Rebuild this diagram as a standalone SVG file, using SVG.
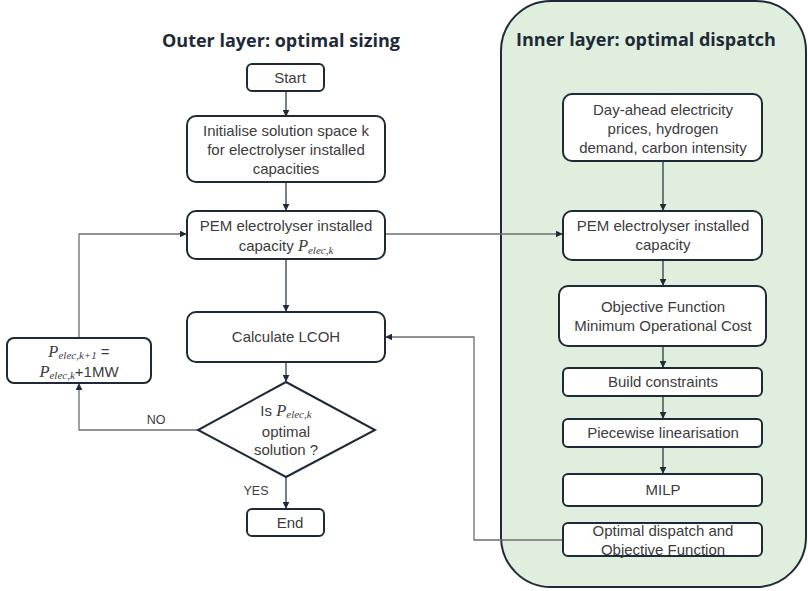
<svg xmlns="http://www.w3.org/2000/svg" width="808" height="591" viewBox="0 0 808 591">
<defs>
<marker id="ah" viewBox="0 0 10 10" refX="9" refY="5" markerWidth="7" markerHeight="7" markerUnits="userSpaceOnUse" orient="auto"><path d="M0,0 L10,5 L0,10 z" fill="#1f2a38"/></marker>
</defs>
<style>
.box{fill:#fff;stroke:#1f2a38;stroke-width:2}
.t{font-family:"Liberation Sans","Open Sans",sans-serif;font-size:15px;fill:#3c3c3c;text-anchor:middle}
.title{font-family:"Open Sans","Liberation Sans",sans-serif;font-size:18px;font-weight:bold;fill:#1f2a38;text-anchor:middle}
.m{font-family:"Liberation Serif","DejaVu Serif",serif;font-style:italic;font-size:16.5px}
.s{font-size:11px}
.c{fill:none;stroke:#1f2a38;stroke-width:1.2}
.g{fill:none;stroke:#6e6e6e;stroke-width:1.3}
.lbl{font-family:"Liberation Sans",sans-serif;font-size:12.5px;fill:#3c3c3c;text-anchor:middle}
</style>
<rect id="panel" x="501" y="1" width="305" height="586" rx="50" ry="50" fill="#e0efdd" stroke="#1f2a38" stroke-width="2"/>
<text class="title" x="281" y="47">Outer layer: optimal sizing</text>
<text class="title" x="646" y="46">Inner layer: optimal dispatch</text>
<g id="connectors">
<line class="c" x1="286" y1="91" x2="286" y2="116" marker-end="url(#ah)"/>
<line class="c" x1="286" y1="182" x2="286" y2="210" marker-end="url(#ah)"/>
<line class="c" x1="286" y1="259" x2="286" y2="311" marker-end="url(#ah)"/>
<line class="c" x1="286" y1="362" x2="286" y2="381" marker-end="url(#ah)"/>
<line class="c" x1="286" y1="477" x2="286" y2="508" marker-end="url(#ah)"/>
<polyline class="g" points="198,430 79,430 79,384" marker-end="url(#ah)"/>
<polyline class="g" points="79,338 79,234 186,234" marker-end="url(#ah)"/>
<line class="g" x1="385" y1="234" x2="562" y2="234" marker-end="url(#ah)"/>
<line class="c" x1="663" y1="161" x2="663" y2="210" marker-end="url(#ah)"/>
<line class="c" x1="663" y1="260" x2="663" y2="285" marker-end="url(#ah)"/>
<line class="c" x1="663" y1="346" x2="663" y2="367" marker-end="url(#ah)"/>
<line class="c" x1="663" y1="396" x2="663" y2="418" marker-end="url(#ah)"/>
<line class="c" x1="663" y1="447" x2="663" y2="473" marker-end="url(#ah)"/>
<polyline class="g" points="563,540 474,540 474,337 386,337" marker-end="url(#ah)"/>
</g>
<g id="start"><rect class="box" x="247" y="64" width="77" height="27" rx="5"/><text class="t" x="290" y="83">Start</text></g>
<g id="init"><rect class="box" x="187" y="116" width="198" height="66" rx="9"/>
<text class="t" x="286" y="136">Initialise solution space k</text>
<text class="t" x="286" y="155">for electrolyser installed</text>
<text class="t" x="286" y="174">capacities</text></g>
<g id="pem"><rect class="box" x="187" y="211" width="198" height="48" rx="9"/>
<text class="t" x="286" y="231">PEM electrolyser installed</text>
<text class="t" x="286" y="251">capacity <tspan class="m">P<tspan class="s" dy="3">elec,k</tspan></tspan></text></g>
<g id="lcoh"><rect class="box" x="187" y="312" width="198" height="50" rx="9"/>
<text class="t" x="286" y="342">Calculate LCOH</text></g>
<g id="decision"><polygon class="box" points="286,382 375,430 286,477 198,430"/>
<text class="t" x="286" y="416">Is <tspan class="m">P<tspan class="s" dy="2">elec,k</tspan></tspan></text>
<text class="t" x="286" y="437">optimal</text>
<text class="t" x="286" y="455">solution ?</text></g>
<g id="end"><rect class="box" x="247" y="509" width="77" height="27" rx="5"/><text class="t" x="290" y="528">End</text></g>
<text class="lbl" x="156" y="424">NO</text>
<text class="lbl" x="256" y="495">YES</text>
<g id="increment"><rect class="box" x="7" y="338" width="144" height="45" rx="7"/>
<text class="t" x="79" y="357"><tspan class="m">P<tspan class="s" dy="2">elec,k+1</tspan></tspan><tspan dy="-2"> =</tspan></text>
<text class="t" x="79" y="377"><tspan class="m">P<tspan class="s" dy="2">elec,k</tspan></tspan><tspan dy="-2">+1MW</tspan></text></g>
<g id="inputs"><rect class="box" x="563" y="94" width="199" height="67" rx="9"/>
<text class="t" x="663" y="115">Day-ahead electricity</text>
<text class="t" x="663" y="134">prices, hydrogen</text>
<text class="t" x="663" y="153">demand, carbon intensity</text></g>
<g id="pem-inner"><rect class="box" x="563" y="211" width="199" height="49" rx="9"/>
<text class="t" x="663" y="231">PEM electrolyser installed</text>
<text class="t" x="663" y="250">capacity</text></g>
<g id="objective"><rect class="box" x="559" y="286" width="207" height="60" rx="9"/>
<text class="t" x="663" y="312">Objective Function</text>
<text class="t" x="663" y="331">Minimum Operational Cost</text></g>
<g id="constraints"><rect class="box" x="563" y="368" width="199" height="28" rx="5"/>
<text class="t" x="663" y="387">Build constraints</text></g>
<g id="piecewise"><rect class="box" x="563" y="419" width="199" height="28" rx="5"/>
<text class="t" x="663" y="438">Piecewise linearisation</text></g>
<g id="milp"><rect class="box" x="563" y="474" width="199" height="32" rx="5"/>
<text class="t" x="663" y="495">MILP</text></g>
<g id="dispatch"><rect class="box" x="563" y="523" width="199" height="33" rx="5"/>
<text class="t" x="663" y="536">Optimal dispatch and</text>
<text class="t" x="663" y="555">Objective Function</text></g>
</svg>
